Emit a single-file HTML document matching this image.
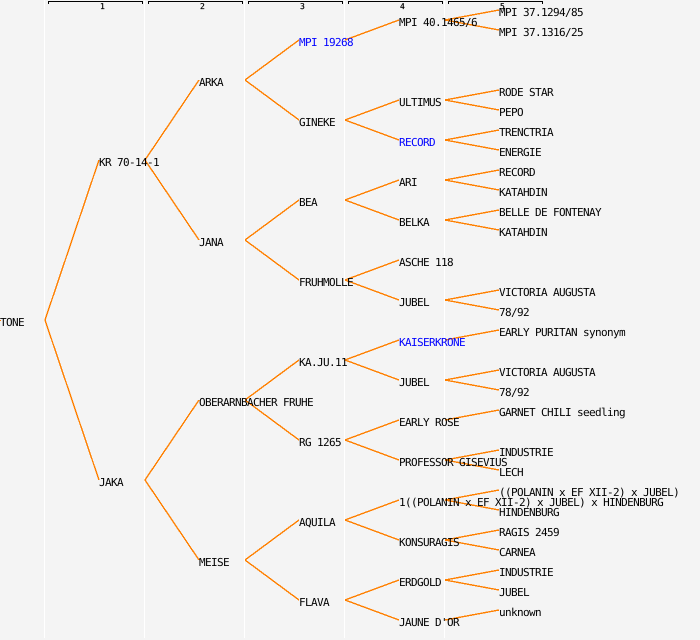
<!DOCTYPE html>
<html><head><meta charset="utf-8"><style>
html,body{margin:0;padding:0;background:#f4f4f4;width:700px;height:640px;overflow:hidden}
svg{display:block}
text{font-family:"DejaVu Sans Mono","Liberation Mono",monospace;font-size:11px;letter-spacing:-0.62px;fill:#000;white-space:pre;text-rendering:geometricPrecision}
.b{fill:#0000ff}
.o{stroke:#ff8000;stroke-width:1.4;fill:none}
.w{stroke:#fff;stroke-width:1;fill:none}
.k{stroke:#000;stroke-width:1;fill:none}
.h{font-size:8px;letter-spacing:0;stroke:#000;stroke-width:.2}
</style></head><body>
<svg width="700" height="640" viewBox="0 0 700 640" xmlns="http://www.w3.org/2000/svg">
<rect width="700" height="640" fill="#f4f4f4"/>
<g class="w" shape-rendering="crispEdges">
<path d="M44.5 0V638M144.5 0V638M244.5 0V638M344.5 0V638M444.5 0V638"/>
</g>
<g class="k" shape-rendering="crispEdges">
<path d="M48.5 4V1.5H142.5V4M148.5 4V1.5H242.5V4M248.5 4V1.5H342.5V4M348.5 4V1.5H442.5V4M448.5 4V1.5H542.5V4"/>
</g>
<g class="o" shape-rendering="crispEdges">
<path d="M0 320.5H1"/>
<path d="M45 320L99 160M45 320L99 480"/>
<path d="M145 160L199 80M145 160L199 240M145 480L199 400M145 480L199 560"/>
<path d="M245 80L299 40M245 80L299 120M245 240L299 200M245 240L299 280M245 400L299 360M245 400L299 440M245 560L299 520M245 560L299 600"/>
<path d="M345 40L399 20M345 120L399 100M345 120L399 140M345 200L399 180M345 200L399 220M345 280L399 260M345 280L399 300M345 360L399 340M345 360L399 380M345 440L399 420M345 440L399 460M345 520L399 500M345 520L399 540M345 600L399 580M345 600L399 620"/>
<path d="M445 20L499 10M445 20L499 30M445 100L499 90M445 100L499 110M445 140L499 130M445 140L499 150M445 180L499 170M445 180L499 190M445 220L499 210M445 220L499 230M445 300L499 290M445 300L499 310M445 340L499 330M445 380L499 370M445 380L499 390M445 420L499 410M445 460L499 450M445 460L499 470M445 500L499 490M445 500L499 510M445 540L499 530M445 540L499 550M445 580L499 570M445 580L499 590M445 620L499 610"/>
</g>
<text x="100" y="9" class="h">1</text>
<text x="200" y="9" class="h">2</text>
<text x="300" y="9" class="h">3</text>
<text x="400" y="9" class="h">4</text>
<text x="500" y="9" class="h">5</text>
<text x="0" y="326">TONE</text>
<text x="99" y="166">KR 70-14-1</text>
<text x="99" y="486">JAKA</text>
<text x="199" y="86">ARKA</text>
<text x="199" y="246">JANA</text>
<text x="199" y="406">OBERARNBACHER FRUHE</text>
<text x="199" y="566">MEISE</text>
<text x="299" y="46" class="b">MPI 19268</text>
<text x="299" y="126">GINEKE</text>
<text x="299" y="206">BEA</text>
<text x="299" y="286">FRUHMOLLE</text>
<text x="299" y="366">KA.JU.11</text>
<text x="299" y="446">RG 1265</text>
<text x="299" y="526">AQUILA</text>
<text x="299" y="606">FLAVA</text>
<text x="399" y="26">MPI 40.1465/6</text>
<text x="399" y="106">ULTIMUS</text>
<text x="399" y="146" class="b">RECORD</text>
<text x="399" y="186">ARI</text>
<text x="399" y="226">BELKA</text>
<text x="399" y="266">ASCHE 118</text>
<text x="399" y="306">JUBEL</text>
<text x="399" y="346" class="b">KAISERKRONE</text>
<text x="399" y="386">JUBEL</text>
<text x="399" y="426">EARLY ROSE</text>
<text x="399" y="466">PROFESSOR GISEVIUS</text>
<text x="399" y="506">1((POLANIN x EF XII-2) x JUBEL) x HINDENBURG</text>
<text x="399" y="546">KONSURAGIS</text>
<text x="399" y="586">ERDGOLD</text>
<text x="399" y="626">JAUNE D'OR</text>
<text x="499" y="16">MPI 37.1294/85</text>
<text x="499" y="36">MPI 37.1316/25</text>
<text x="499" y="96">RODE STAR</text>
<text x="499" y="116">PEPO</text>
<text x="499" y="136">TRENCTRIA</text>
<text x="499" y="156">ENERGIE</text>
<text x="499" y="176">RECORD</text>
<text x="499" y="196">KATAHDIN</text>
<text x="499" y="216">BELLE DE FONTENAY</text>
<text x="499" y="236">KATAHDIN</text>
<text x="499" y="296">VICTORIA AUGUSTA</text>
<text x="499" y="316">78/92</text>
<text x="499" y="336">EARLY PURITAN synonym</text>
<text x="499" y="376">VICTORIA AUGUSTA</text>
<text x="499" y="396">78/92</text>
<text x="499" y="416">GARNET CHILI seedling</text>
<text x="499" y="456">INDUSTRIE</text>
<text x="499" y="476">LECH</text>
<text x="499" y="496">((POLANIN x EF XII-2) x JUBEL)</text>
<text x="499" y="516">HINDENBURG</text>
<text x="499" y="536">RAGIS 2459</text>
<text x="499" y="556">CARNEA</text>
<text x="499" y="576">INDUSTRIE</text>
<text x="499" y="596">JUBEL</text>
<text x="499" y="616">unknown</text>
</svg>
</body></html>
